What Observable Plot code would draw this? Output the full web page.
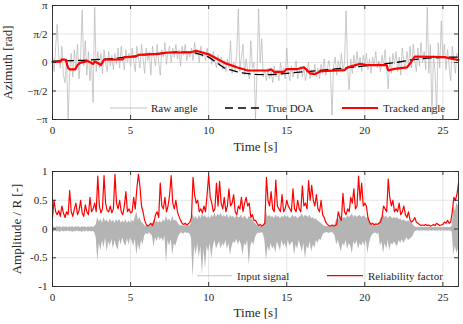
<!DOCTYPE html>
<html><head><meta charset="utf-8">
<script src="https://cdn.jsdelivr.net/npm/d3@7"></script>
<script src="https://cdn.jsdelivr.net/npm/@observablehq/plot@0.6"></script>
<style>
body{margin:0;background:#fff;}
#wrap{position:relative;width:463px;height:324px;}
#wrap svg{display:block;}
#legend{position:absolute;left:0;top:0;}
</style></head><body><div id="wrap"></div>
<script>
const PI = Math.PI;

// ---- Top panel: azimuth [rad] ----
const rawStep = 0.1; // sample spacing of raw angle (s)
const rawAngle = [
  0.3,-0.5,0.8,2.1,0.4,-0.3,0.9,-0.7,-1.1,0.2,
  -3.1,-0.6,0.5,-0.8,0.7,-0.4,1.0,-0.9,0.3,2.9,
  -0.2,1.2,-0.7,0.6,-1.0,0.2,-2.2,3.05,-0.5,0.6,
  -0.3,0.5,-0.6,0.7,0.0,-0.5,0.6,-0.2,0.4,-0.4,
  0.5,-0.1,0.8,-0.3,0.9,0.1,-0.4,0.7,0.0,0.5,
  -0.2,0.8,0.1,-0.5,0.9,0.3,-0.3,1.0,0.2,-0.6,
  0.8,0.1,0.6,-0.7,0.9,0.3,-0.2,1.0,0.0,-0.7,
  0.7,0.3,1.1,-0.1,0.6,0.9,0.0,0.8,0.3,1.0,
  0.2,0.7,-0.2,0.9,0.4,1.0,0.1,0.6,0.3,0.8,
  0.1,1.1,0.4,0.7,0.0,0.9,0.3,0.6,0.1,0.8,
  0.2,0.5,-0.1,0.6,0.1,-0.3,0.4,-0.2,0.3,-0.4,
  0.1,-0.5,0.2,-0.3,1.2,-0.6,0.0,-0.4,0.5,2.95,
  -0.5,0.3,1.0,-0.7,0.2,-0.4,-0.9,1.2,-0.3,0.0,
  -3.1,-0.5,2.95,0.0,1.3,-0.8,-0.4,-1.0,-0.3,-0.9,
  -0.5,-1.1,-0.2,-0.8,-0.4,-1.0,0.0,-0.7,-0.3,-0.9,
  0.8,-0.6,-1.0,-0.2,-0.8,-0.4,0.1,-0.9,-0.5,-0.2,
  -0.8,-0.3,-1.0,-0.5,0.0,-0.9,-0.4,-0.7,-0.1,-0.8,
  -0.3,-0.9,-0.1,-0.6,0.2,-0.7,-0.3,0.1,-0.6,-2.9,
  -0.2,0.3,-0.7,0.1,-0.4,0.5,-0.5,0.0,2.85,-0.3,
  -1.5,0.2,-0.6,0.4,-0.3,0.6,-0.2,0.3,-0.5,0.4,
  -0.1,0.5,-0.4,0.2,-0.6,0.3,-0.2,0.6,-0.3,0.1,
  -0.5,0.4,-0.2,0.7,-0.4,-1.45,0.3,-0.6,0.5,-0.1,
  0.6,-0.5,0.3,-0.7,0.8,0.0,-0.4,0.6,-0.2,0.9,
  -0.3,1.0,0.1,-0.5,0.8,-0.2,1.1,0.0,0.6,-0.4,
  3.05,-0.6,1.0,-2.9,0.4,-0.5,-2.8,1.1,-0.3,2.3,
  0.2,1.0,-0.4,0.7,-0.2,-1.0,0.9,0.1,-0.6,0.5,
  0.2
];
const doaTime  = [0,2,4,6,7,8,9,10,11,12,13,14,15,16,17,18,19,20,21,22,23,24,25,26];
const doaValue = [0.07,0.12,0.22,0.44,0.52,0.58,0.56,0.3,-0.3,-0.56,-0.66,-0.67,-0.6,-0.52,-0.45,-0.37,-0.28,-0.19,-0.1,0.0,0.15,0.24,0.28,0.3];
const trackTime  = [0,0.5,0.6,0.85,1.0,1.1,1.45,1.6,1.75,2.1,2.2,2.4,2.6,2.7,2.9,3.1,3.3,4.5,4.6,5.3,5.5,6.8,7.2,7.5,8.8,9.2,10.0,10.5,11.1,11.8,12.5,13.8,14.0,14.2,14.8,15.0,15.7,16.1,16.3,16.5,16.8,17.2,18.7,18.9,19.3,19.7,20.2,21.4,21.5,21.9,22.7,22.95,23.2,25.1,25.9,26];
const trackValue = [0.03,0.05,0.17,0.15,-0.3,-0.38,-0.38,-0.15,-0.02,0.05,0.1,0.02,-0.08,0.05,-0.03,-0.14,0.16,0.17,0.3,0.32,0.42,0.47,0.53,0.55,0.55,0.65,0.45,0.22,-0.05,-0.26,-0.44,-0.44,-0.38,-0.52,-0.52,-0.36,-0.36,-0.26,-0.42,-0.6,-0.64,-0.48,-0.42,-0.26,-0.17,-0.07,-0.15,-0.15,-0.44,-0.35,-0.27,0.0,0.33,0.3,0.15,0.15];

// ---- Bottom panel: amplitude / reliability ----
const relStep = 0.1;
const relValue = [
  0.2,0.5,0.3,0.25,0.32,0.22,0.4,0.28,0.2,0.3,
  0.25,0.67,0.3,0.22,0.35,0.45,0.25,0.32,0.5,0.28,
  0.22,0.42,0.3,0.25,0.55,0.3,0.35,0.45,0.3,0.92,
  0.4,0.28,0.35,0.93,0.45,0.32,0.3,0.4,0.28,0.35,
  0.95,0.45,0.35,0.5,0.3,0.25,0.4,0.65,0.3,0.35,
  0.28,0.3,0.55,0.35,0.7,0.95,0.75,0.4,0.3,0.15,
  0.08,0.05,0.07,0.1,0.06,0.12,0.25,0.3,0.2,0.8,
  0.4,0.35,0.55,0.3,0.4,0.6,0.93,0.45,0.35,0.5,
  0.3,0.22,0.15,0.1,0.08,0.1,0.07,0.09,0.12,0.2,
  0.9,0.6,0.45,0.5,0.3,0.35,0.28,0.4,0.3,0.6,
  0.94,0.55,0.45,0.3,0.35,0.8,0.4,0.83,0.45,0.35,
  0.55,0.3,0.4,0.7,0.4,0.45,0.6,0.3,0.25,0.4,
  0.35,0.55,0.3,0.45,0.55,0.4,0.45,0.2,0.25,0.15,
  0.15,0.1,0.06,0.08,0.05,0.07,0.1,0.9,0.5,0.4,
  0.65,0.35,0.3,0.85,0.4,0.35,0.3,0.6,0.3,0.35,
  0.5,0.4,0.35,0.3,0.7,0.35,0.3,0.5,0.35,0.3,
  0.75,0.4,0.45,0.35,0.84,0.5,0.76,0.5,0.4,0.6,
  0.35,0.3,0.5,0.25,0.2,0.12,0.08,0.06,0.05,0.07,
  0.05,0.06,0.08,0.3,0.2,0.15,0.62,0.3,0.25,0.35,
  0.3,0.55,0.45,0.7,0.35,0.4,0.92,0.5,0.8,0.4,
  0.45,0.4,0.2,0.12,0.08,0.1,0.07,0.09,0.08,0.1,
  0.12,0.2,0.4,0.35,0.3,0.87,0.55,0.4,0.5,0.3,
  0.35,0.3,0.45,0.25,0.3,0.4,0.25,0.2,0.3,0.15,
  0.12,0.15,0.2,0.12,0.1,0.08,0.06,0.07,0.06,0.08,
  0.06,0.07,0.05,0.06,0.08,0.06,0.1,0.08,0.06,0.07,
  0.08,0.12,0.1,0.15,0.1,0.12,0.3,0.55,0.5,0.6,
  0.8
];
const envStep = 0.1; // envelope of the input signal
const envUpper = [
  0.03,0.04,0.02,0.04,0.03,0.04,0.02,0.04,0.03,0.04,
  0.02,0.04,0.03,0.04,0.02,0.04,0.03,0.04,0.02,0.04,
  0.03,0.04,0.02,0.04,0.03,0.04,0.03,0.04,0.08,0.2,
  0.12,0.17,0.1,0.2,0.12,0.16,0.1,0.18,0.12,0.15,
  0.1,0.16,0.12,0.17,0.1,0.14,0.11,0.16,0.1,0.14,
  0.1,0.15,0.12,0.2,0.3,0.15,0.2,0.12,0.1,0.06,
  0.05,0.06,0.04,0.06,0.08,0.16,0.1,0.14,0.1,0.14,
  0.1,0.16,0.12,0.22,0.14,0.17,0.12,0.22,0.14,0.15,
  0.12,0.08,0.05,0.06,0.05,0.06,0.05,0.06,0.05,0.1,
  0.26,0.18,0.22,0.16,0.24,0.18,0.27,0.2,0.24,0.18,
  0.22,0.18,0.24,0.2,0.28,0.2,0.26,0.22,0.28,0.2,
  0.24,0.2,0.26,0.18,0.24,0.2,0.22,0.18,0.24,0.2,
  0.2,0.24,0.18,0.22,0.2,0.16,0.22,0.18,0.17,0.12,
  0.1,0.06,0.05,0.04,0.05,0.04,0.12,0.3,0.2,0.24,
  0.2,0.22,0.18,0.24,0.2,0.22,0.18,0.22,0.2,0.24,
  0.2,0.22,0.18,0.2,0.24,0.2,0.22,0.18,0.2,0.22,
  0.26,0.2,0.24,0.22,0.2,0.24,0.18,0.2,0.16,0.18,
  0.14,0.12,0.1,0.08,0.05,0.05,0.04,0.05,0.04,0.05,
  0.05,0.08,0.17,0.14,0.2,0.22,0.18,0.2,0.18,0.22,
  0.2,0.22,0.26,0.2,0.24,0.2,0.22,0.24,0.2,0.22,
  0.22,0.18,0.2,0.14,0.08,0.06,0.05,0.06,0.05,0.06,
  0.17,0.2,0.24,0.2,0.22,0.18,0.22,0.2,0.18,0.2,
  0.18,0.2,0.16,0.18,0.14,0.16,0.14,0.12,0.14,0.12,
  0.1,0.08,0.04,0.03,0.02,0.03,0.02,0.03,0.02,0.03,
  0.02,0.03,0.02,0.03,0.02,0.03,0.02,0.03,0.02,0.03,
  0.02,0.03,0.02,0.03,0.02,0.03,0.05,0.4,0.3,0.45,
  0.4
];
const envLower = [
  -0.04,-0.05,-0.03,-0.05,-0.04,-0.06,-0.03,-0.05,-0.04,-0.05,
  -0.03,-0.05,-0.04,-0.06,-0.04,-0.05,-0.03,-0.05,-0.04,-0.06,
  -0.04,-0.05,-0.03,-0.05,-0.04,-0.05,-0.04,-0.06,-0.15,-0.57,
  -0.25,-0.38,-0.2,-0.33,-0.15,-0.4,-0.22,-0.3,-0.18,-0.35,
  -0.2,-0.3,-0.37,-0.18,-0.28,-0.15,-0.25,-0.3,-0.17,-0.28,
  -0.15,-0.22,-0.3,-0.18,-0.45,-0.25,-0.38,-0.2,-0.28,-0.12,
  -0.08,-0.1,-0.07,-0.09,-0.12,-0.32,-0.15,-0.22,-0.13,-0.2,
  -0.15,-0.22,-0.12,-0.6,-0.2,-0.3,-0.18,-0.46,-0.25,-0.3,
  -0.2,-0.12,-0.08,-0.07,-0.09,-0.06,-0.08,-0.07,-0.09,-0.15,
  -0.86,-0.3,-0.45,-0.25,-0.5,-0.3,-0.8,-0.35,-0.69,-0.3,
  -0.4,-0.25,-0.52,-0.3,-0.2,-0.35,-0.28,-0.22,-0.35,-0.25,
  -0.3,-0.2,-0.35,-0.25,-0.46,-0.3,-0.22,-0.25,-0.18,-0.28,
  -0.2,-0.28,-0.46,-0.25,-0.3,-0.2,-0.63,-0.3,-0.22,-0.28,
  -0.15,-0.09,-0.07,-0.08,-0.06,-0.08,-0.2,-0.55,-0.3,-0.4,
  -0.25,-0.35,-0.3,-0.42,-0.22,-0.3,-0.38,-0.2,-0.3,-0.25,
  -0.35,-0.2,-0.3,-0.25,-0.22,-0.46,-0.28,-0.35,-0.2,-0.3,
  -0.4,-0.25,-0.52,-0.3,-0.35,-0.22,-0.4,-0.28,-0.33,-0.2,
  -0.25,-0.18,-0.2,-0.12,-0.08,-0.07,-0.06,-0.08,-0.07,-0.06,
  -0.08,-0.12,-0.28,-0.2,-0.3,-0.4,-0.25,-0.3,-0.2,-0.35,
  -0.25,-0.3,-0.43,-0.22,-0.28,-0.2,-0.35,-0.25,-0.3,-0.22,
  -0.3,-0.2,-0.43,-0.25,-0.15,-0.1,-0.08,-0.07,-0.09,-0.08,
  -0.3,-0.22,-0.43,-0.25,-0.35,-0.2,-0.38,-0.25,-0.28,-0.22,
  -0.28,-0.3,-0.2,-0.25,-0.18,-0.25,-0.2,-0.15,-0.2,-0.18,
  -0.15,-0.12,-0.05,-0.04,-0.03,-0.04,-0.03,-0.04,-0.03,-0.04,
  -0.03,-0.04,-0.03,-0.04,-0.03,-0.04,-0.03,-0.04,-0.03,-0.04,
  -0.03,-0.04,-0.03,-0.04,-0.03,-0.04,-0.05,-0.46,-0.3,-0.42,
  -0.35
];

// ---- Ticks & labels ----
const xDomain = [0, 26];
const xTicks = [0, 5, 10, 15, 20, 25];
const azTicks = [-PI, -PI/2, 0, PI/2, PI];
const azTickLabels = ["−π", "−π/2", "0", "π/2", "π"];
const ampTicks = [-1, -0.5, 0, 0.5, 1];
const ampTickLabels = ["-1", "-0.5", "0", "0.5", "1"];
const xLabel = "Time [s]";
const azLabel = "Azimuth [rad]";
const ampLabel = "Amplitude / R [-]";
const topLegend = ["Raw angle", "True DOA", "Tracked angle"];
const botLegend = ["Input signal", "Reliability factor"];

// ---- Tables ----
const raw = rawAngle.map((v, i) => ({t: i * rawStep, v}));
const doa = doaTime.map((t, i) => ({t, v: doaValue[i]}));
const track = trackTime.map((t, i) => ({t, v: trackValue[i]}));
const rel = relValue.map((v, i) => ({t: i * relStep, v}));
const env = envUpper.map((hi, i) => ({t: i * envStep, hi, lo: envLower[i]}));

const FONT = '"Liberation Serif", "Times New Roman", serif';
const AX = "#262626";
const GRID = "#e4e4e4";

function panel({height, marginTop, marginBottom, yDomain, yTicks, yLabels, ylabel, ylabelDx, xlabelDy, marks}) {
  const W = 463, ml = 52, mr = 5;
  const pw = W - ml - mr, ph = height - marginTop - marginBottom;
  return Plot.plot({
    width: W, height, marginLeft: ml, marginRight: mr, marginTop, marginBottom,
    style: {fontFamily: FONT, fontSize: "11px", color: AX, background: "white", overflow: "visible"},
    x: {domain: xDomain},
    y: {domain: yDomain},
    marks: [
      Plot.gridX(xTicks, {stroke: GRID, strokeOpacity: 1}),
      Plot.gridY(yTicks, {stroke: GRID, strokeOpacity: 1}),
      ...marks,
      Plot.frame({stroke: AX, strokeWidth: 0.9}),
      Plot.tickX(xTicks, {x: d => d, insetBottom: ph - 4, stroke: AX, strokeWidth: 0.9}),
      Plot.tickX(xTicks, {x: d => d, insetTop: ph - 4, stroke: AX, strokeWidth: 0.9}),
      Plot.tickY(yTicks, {y: d => d, insetRight: pw - 4, stroke: AX, strokeWidth: 0.9}),
      Plot.tickY(yTicks, {y: d => d, insetLeft: pw - 4, stroke: AX, strokeWidth: 0.9}),
      Plot.axisX(xTicks, {tickSize: 0, tickPadding: 7, label: null, fontSize: 11}),
      Plot.axisY(yTicks, {tickSize: 0, tickPadding: 5, label: null, fontSize: 11,
        tickFormat: d => yLabels[yTicks.indexOf(d)]}),
      Plot.text([xLabel], {frameAnchor: "bottom", lineAnchor: "middle", textAnchor: "middle",
        dy: xlabelDy, text: d => d, fontSize: 13, fill: AX}),
      Plot.text([ylabel], {frameAnchor: "left", rotate: -90, textAnchor: "middle", lineAnchor: "middle",
        dx: ylabelDx, text: d => d, fontSize: 13, fill: AX})
    ]
  });
}

const topPanel = panel({
  height: 162, marginTop: 5, marginBottom: 43,
  yDomain: [-PI, PI], yTicks: azTicks, yLabels: azTickLabels,
  ylabel: azLabel, ylabelDx: -44.5, xlabelDy: 27,
  marks: [
    Plot.line(raw, {x: "t", y: "v", stroke: "#b4b4b4", strokeWidth: 0.7, clip: true}),
    Plot.line(doa, {x: "t", y: "v", stroke: "#000", strokeWidth: 1.3, strokeDasharray: "8,5"}),
    Plot.line(track, {x: "t", y: "v", stroke: "#ff0000", strokeWidth: 2.2})
  ]
});
const botPanel = panel({
  height: 162, marginTop: 9, marginBottom: 38,
  yDomain: [-1, 1], yTicks: ampTicks, yLabels: ampTickLabels,
  ylabel: ampLabel, ylabelDx: -35.5, xlabelDy: 26,
  marks: [
    Plot.areaY(env, {x: "t", y1: "lo", y2: "hi", fill: "#b4b4b4"}),
    Plot.line(rel, {x: "t", y: "v", stroke: "#ff0000", strokeWidth: 1.2})
  ]
});

const wrap = document.getElementById("wrap");
wrap.appendChild(topPanel);
wrap.appendChild(botPanel);

// ---- Legends (overlay) ----
const NS = "http://www.w3.org/2000/svg";
const leg = document.createElementNS(NS, "svg");
leg.setAttribute("id", "legend");
leg.setAttribute("width", 463);
leg.setAttribute("height", 324);
function lline(x1, x2, y, stroke, w, dash) {
  const l = document.createElementNS(NS, "line");
  l.setAttribute("x1", x1); l.setAttribute("x2", x2);
  l.setAttribute("y1", y); l.setAttribute("y2", y);
  l.setAttribute("stroke", stroke); l.setAttribute("stroke-width", w);
  if (dash) l.setAttribute("stroke-dasharray", dash);
  leg.appendChild(l);
}
function ltext(x, y, s) {
  const t = document.createElementNS(NS, "text");
  t.setAttribute("x", x); t.setAttribute("y", y);
  t.setAttribute("font-family", FONT); t.setAttribute("font-size", 11);
  t.setAttribute("fill", AX);
  t.textContent = s;
  leg.appendChild(t);
}
lline(110, 147, 108, "#b4b4b4", 0.8);
ltext(151, 111.8, topLegend[0]);
lline(225, 261, 108, "#000", 1.3, "8,5");
ltext(266.5, 111.8, topLegend[1]);
lline(342, 378, 108, "#ff0000", 2.2);
ltext(383, 111.8, topLegend[2]);
lline(197, 232, 275.7, "#b4b4b4", 0.8);
ltext(237, 279.5, botLegend[0]);
lline(327, 363, 275.7, "#ff0000", 1.2);
ltext(368, 279.5, botLegend[1]);
wrap.appendChild(leg);
</script>
</body></html>
